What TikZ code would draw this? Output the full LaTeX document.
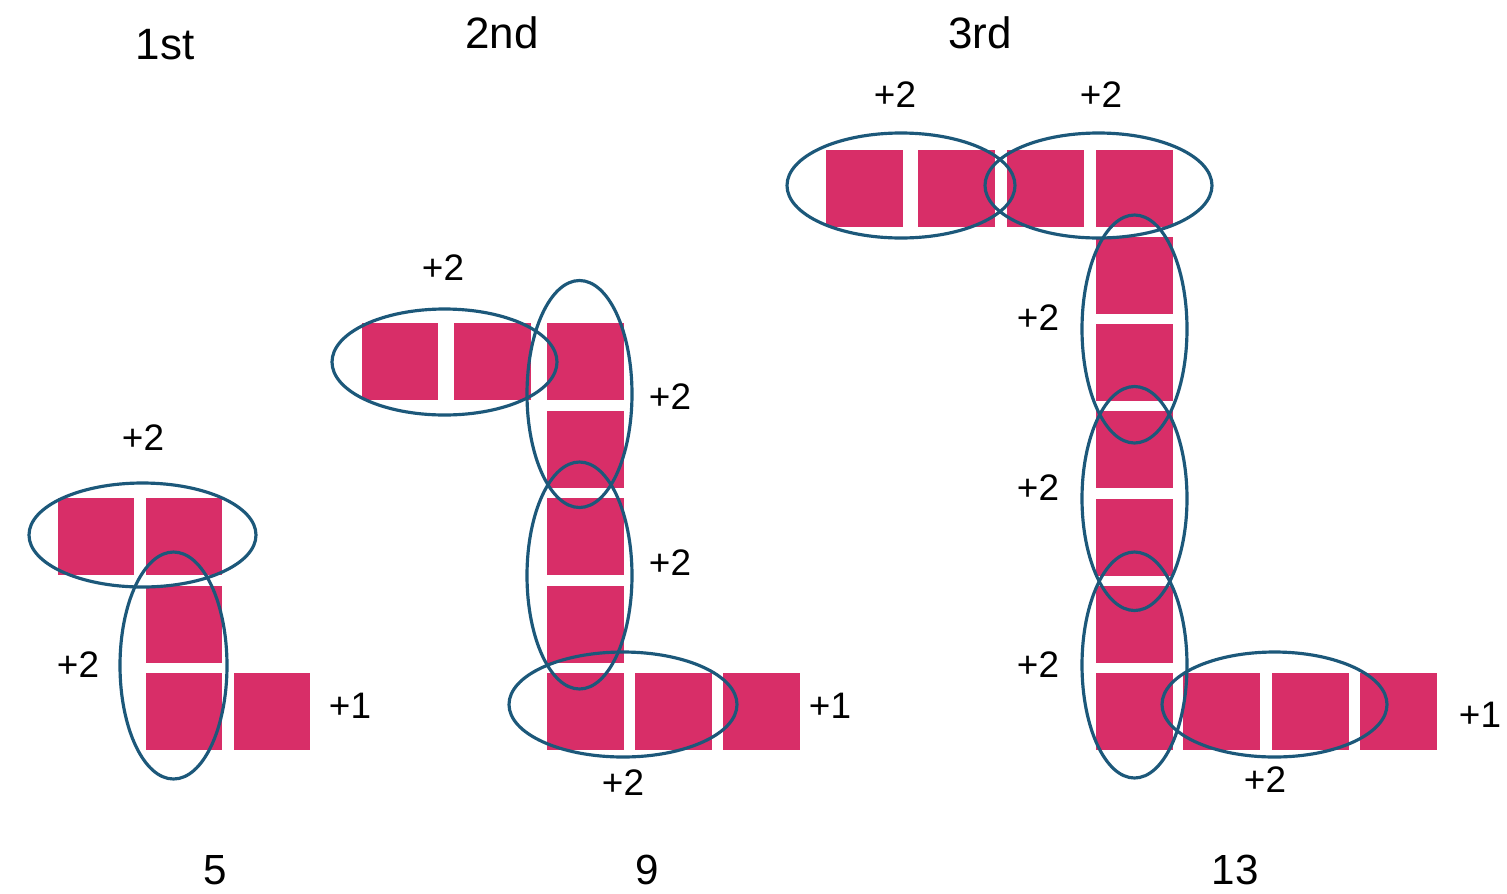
\documentclass[tikz,border=0pt]{standalone}
\usepackage{fontspec}
\setmainfont{Liberation Sans}
\definecolor{sqpink}{RGB}{216,46,104}
\definecolor{ringblue}{RGB}{28,88,122}
\begin{document}
\begin{tikzpicture}[x=0.02cm,y=-0.02cm,
  sq/.style={fill=sqpink,draw=none,inner sep=0pt,minimum size=1.54cm},
  ring/.style={draw=ringblue,line width=1.8pt},
  lab/.style={inner sep=0pt,font=\fontsize{21}{25}\selectfont},
  ttl/.style={inner sep=0pt,font=\fontsize{25}{30}\selectfont},
  num/.style={inner sep=0pt,font=\fontsize{24}{28}\selectfont}]
\useasboundingbox[fill=white] (0,0) rectangle (1507,893);
% ---------- 1st ----------
\node[sq] (a1) at (96,536) {};
\node[sq] (a2) at (184,536) {};
\node[sq] (a3) at (184,624) {};
\node[sq] (a4) at (184,711) {};
\node[sq] (a5) at (272,711) {};
\draw[ring] (142.5,535) ellipse [x radius=113.5, y radius=52];
\draw[ring] (173.5,665.5) ellipse [x radius=53.5, y radius=113.5];
\node[ttl] (t1) at (165,45) {1st};
\node[lab] (l1a) at (143,438) {+2};
\node[lab] (l1b) at (78,665) {+2};
\node[lab] (l1c) at (350,706) {+1};
\node[num] (n1) at (215,870) {5};
% ---------- 2nd ----------
\node[sq] (b1) at (400,361.5) {};
\node[sq] (b2) at (492,361.5) {};
\node[sq] (b3) at (585.5,361.5) {};
\node[sq] (b4) at (585.5,449) {};
\node[sq] (b5) at (585.5,536.5) {};
\node[sq] (b6) at (585.5,624) {};
\node[sq] (b7) at (585.5,711.5) {};
\node[sq] (b8) at (673.5,711.5) {};
\node[sq] (b9) at (761.5,711.5) {};
\draw[ring] (444.5,362) ellipse [x radius=112.5, y radius=53];
\draw[ring] (579.5,394) ellipse [x radius=52.5, y radius=113.5];
\draw[ring] (579.5,575.5) ellipse [x radius=52.5, y radius=113.5];
\draw[ring] (623,704.5) ellipse [x radius=114, y radius=52.5];
\node[ttl] (t2) at (502,33) {2nd};
\node[lab] (l2a) at (443,268) {+2};
\node[lab] (l2b) at (670,397) {+2};
\node[lab] (l2c) at (670,563) {+2};
\node[lab] (l2d) at (623,783) {+2};
\node[lab] (l2e) at (830,706) {+1};
\node[num] (n2) at (647,870) {9};
% ---------- 3rd ----------
\node[sq] (c1) at (864,188.5) {};
\node[sq] (c2) at (956,188.5) {};
\node[sq] (c3) at (1045.5,188.5) {};
\node[sq] (c4) at (1134,188.5) {};
\node[sq] (c5) at (1134,275) {};
\node[sq] (c6) at (1134,362) {};
\node[sq] (c7) at (1134,449.5) {};
\node[sq] (c8) at (1134,537) {};
\node[sq] (c9) at (1134,624) {};
\node[sq] (c10) at (1134,711.5) {};
\node[sq] (c11) at (1221.5,711.5) {};
\node[sq] (c12) at (1310.5,711.5) {};
\node[sq] (c13) at (1398.5,711.5) {};
\draw[ring] (901,185.5) ellipse [x radius=114, y radius=52.5];
\draw[ring] (1098.5,185.5) ellipse [x radius=113.5, y radius=52.5];
\draw[ring] (1134.5,329) ellipse [x radius=52.5, y radius=114];
\draw[ring] (1134.5,498.5) ellipse [x radius=52.5, y radius=112];
\draw[ring] (1134.5,665) ellipse [x radius=52.5, y radius=113];
\draw[ring] (1274.5,704.5) ellipse [x radius=112.5, y radius=52.5];
\node[ttl] (t3) at (980,33) {3rd};
\node[lab] (l3a) at (895,95) {+2};
\node[lab] (l3b) at (1101,95) {+2};
\node[lab] (l3c) at (1038,318) {+2};
\node[lab] (l3d) at (1038,488) {+2};
\node[lab] (l3e) at (1038,665) {+2};
\node[lab] (l3f) at (1265,780) {+2};
\node[lab] (l3g) at (1480,715) {+1};
\node[num] (n3) at (1235,870) {13};
\end{tikzpicture}
\end{document}
